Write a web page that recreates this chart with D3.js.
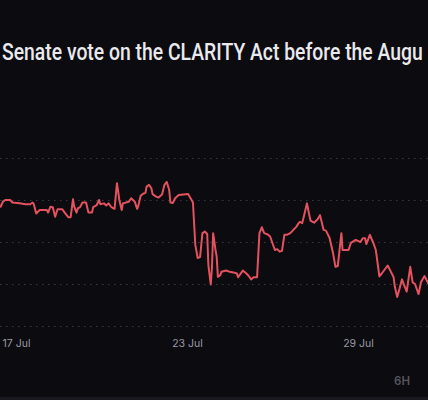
<!DOCTYPE html>
<html>
<head>
<meta charset="utf-8">
<script src="https://cdn.jsdelivr.net/npm/d3@7"></script>
<style>
  html, body { margin: 0; padding: 0; background: #0b0b10; overflow: hidden; }
  svg { display: block; }
</style>
</head>
<body>
<div class="chart"></div>
<script>
// hours since 17 Jul 00:00 (UTC) and the "Yes" price in percent
var hours = [
  -13, -11, -9, -5, -3, 3, 8, 12, 14, 15, 17, 20, 26, 27, 29, 31, 33, 35, 39, 41,
  44, 46, 48, 49, 51, 52, 54, 56, 59, 61, 64, 65, 68, 70, 71, 74, 76, 78, 80, 82,
  83, 85, 86, 87, 89, 90, 95, 97, 100, 102, 103, 105, 107, 109, 110, 112, 114, 115, 118, 120,
  123, 125, 127, 129, 130, 132, 134, 137, 141, 145, 147, 149, 151, 153, 155, 157, 159, 161, 162, 164,
  165, 166, 168, 169, 170, 172, 173, 177, 180, 184, 186, 187, 189, 191, 194, 196, 198, 200, 203, 205,
  207, 209, 212, 214, 216, 218, 220, 222, 224, 226, 228, 231, 233, 236, 238, 239, 241, 243, 245, 247,
  248, 251, 254, 256, 259, 261, 264, 267, 269, 271, 274, 275, 280, 282, 286, 290, 292, 294, 295, 298,
  301, 303, 306, 308, 313, 315, 318, 319, 321, 323, 325, 328, 329, 332, 334, 336, 339, 341, 344, 347
];
var prices = [
  38.4, 39.6, 40.0, 40.0, 39.4, 39.2, 39.0, 39.0, 39.4, 39.0, 36.8, 37.6, 37.6, 37.0, 38.4, 38.3, 36.0, 37.8, 37.8, 37.0,
  35.9, 35.9, 40.2, 38.4, 37.0, 38.0, 38.3, 39.4, 39.4, 37.0, 37.0, 38.3, 38.8, 40.0, 39.0, 39.2, 38.7, 39.2, 38.4, 38.0,
  37.9, 44.0, 42.1, 40.0, 37.6, 39.2, 39.6, 40.4, 39.6, 37.9, 38.6, 41.0, 41.5, 41.7, 43.2, 43.6, 42.8, 41.4, 40.8, 40.6,
  41.3, 43.6, 44.3, 42.4, 39.4, 39.3, 40.4, 41.2, 41.3, 41.4, 40.4, 39.4, 29.3, 26.2, 26.4, 32.1, 32.5, 31.9, 24.5, 19.9,
  23.8, 32.1, 28.1, 26.5, 21.7, 22.1, 22.9, 23.2, 22.9, 22.7, 22.5, 21.6, 22.4, 23.2, 22.5, 21.9, 21.1, 21.6, 21.6, 32.1,
  33.5, 32.1, 31.8, 31.3, 29.7, 28.1, 28.3, 27.7, 27.9, 31.7, 31.7, 32.1, 32.7, 33.6, 34.5, 34.8, 34.5, 36.8, 39.2, 36.4,
  35.1, 34.6, 35.4, 36.4, 32.9, 32.7, 31.0, 27.3, 24.1, 24.3, 32.1, 28.1, 28.1, 29.8, 30.5, 30.0, 30.9, 30.9, 29.5, 31.7,
  29.7, 28.1, 21.8, 22.5, 24.4, 23.3, 21.6, 19.4, 16.9, 18.9, 21.1, 18.9, 18.2, 24.1, 20.4, 20.0, 17.6, 20.4, 21.9, 20.2
];
var gridValues = [10, 20, 30, 40, 50];
var tickDates = ["2025-07-17", "2025-07-23", "2025-07-29"];
// the screenshot only shows this part of the question title
var titleText = "Senate vote on the CLARITY Act before the Augu";
var rangeLabel = "6H";

var svgWidth = 428;
var svgHeight = 400;

var start = new Date(Date.UTC(2025, 6, 17));
var data = hours.map(function(h, i) {
  return { date: d3.utcHour.offset(start, h), price: prices[i] };
});

var svg = d3.select(".chart")
  .append("svg")
  .attr("width", svgWidth)
  .attr("height", svgHeight);

svg.append("rect")
  .attr("width", svgWidth)
  .attr("height", svgHeight)
  .attr("fill", "#0b0b10");

// title, squeezed horizontally to the condensed look of the original
var title = svg.append("text")
  .attr("x", 0)
  .attr("y", 0)
  .attr("font-family", "Roboto, 'Noto Sans', sans-serif")
  .attr("font-size", "23px")
  .attr("font-weight", 500)
  .attr("fill", "#e9e9ee")
  .text(titleText);
var titleWidth = title.node().getComputedTextLength();
title.attr("transform", `translate(2, 60) scale(${421 / titleWidth}, 1)`);

// scales
var xScale = d3.scaleUtc()
  .domain([new Date(Date.UTC(2025, 6, 17)), new Date(Date.UTC(2025, 6, 29))])
  .range([16, 358]);

var yScale = d3.scaleLinear()
  .domain([10, 50])
  .range([326, 158]);

// dotted gridlines
svg.append("g")
  .selectAll("line")
  .data(gridValues)
  .enter()
  .append("line")
  .attr("x1", 0)
  .attr("x2", svgWidth)
  .attr("y1", d => yScale(d) + 0.5)
  .attr("y2", d => yScale(d) + 0.5)
  .attr("stroke", "#3a3a45")
  .attr("stroke-width", 1)
  .attr("stroke-dasharray", "1.5,4.5");

// x axis labels
var xAxis = d3.axisBottom(xScale)
  .tickValues(tickDates.map(d => new Date(d + "T00:00:00Z")))
  .tickFormat(d3.utcFormat("%-d %b"))
  .tickSize(0)
  .tickPadding(0);

var xAxisGroup = svg.append("g")
  .attr("transform", "translate(0, 340)")
  .call(xAxis);
xAxisGroup.select(".domain").remove();
xAxisGroup.selectAll("text")
  .attr("fill", "#9a9aa3")
  .attr("font-family", "Inter, 'Noto Sans', sans-serif")
  .attr("font-size", "10.5px");

// price line
var line = d3.line()
  .x(d => xScale(d.date))
  .y(d => yScale(d.price))
  .curve(d3.curveLinear);

svg.append("path")
  .datum(data)
  .attr("d", line)
  .attr("fill", "none")
  .attr("stroke", "#e4525f")
  .attr("stroke-width", 2)
  .attr("stroke-linejoin", "round")
  .attr("stroke-linecap", "round");

// range selector label
svg.append("text")
  .attr("x", 402)
  .attr("y", 385)
  .attr("text-anchor", "middle")
  .attr("font-family", "Inter, 'Noto Sans', sans-serif")
  .attr("font-size", "11.5px")
  .attr("font-weight", 600)
  .attr("fill", "#55555e")
  .text(rangeLabel);

// bottom strip
svg.append("rect")
  .attr("x", 0)
  .attr("y", 397)
  .attr("width", svgWidth)
  .attr("height", 3)
  .attr("fill", "#18181e");
</script>
</body>
</html>
